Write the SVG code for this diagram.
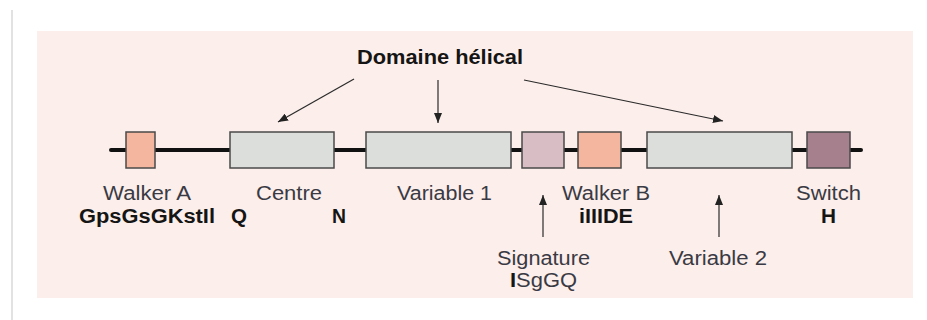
<svg xmlns="http://www.w3.org/2000/svg" width="927" height="320" viewBox="0 0 927 320">
<defs>
<marker id="ah" markerWidth="10" markerHeight="8" refX="10" refY="4" orient="auto" markerUnits="userSpaceOnUse">
<path d="M0,0 L10,4 L0,8 z" fill="#222"/>
</marker>
<style>
.lbl{font-family:"Liberation Sans",Arial,sans-serif;font-size:20px;fill:#3a3a44}
.bld{font-family:"Liberation Sans",Arial,sans-serif;font-size:20px;font-weight:bold;fill:#151515}
.box{stroke:#4a4a4a;stroke-width:1.5}
.grey{fill:#DCDEDB}
.salmon{fill:#F4B69E}
.sig{fill:#D8BEC4}
.sw{fill:#A7808D}
.arr{stroke:#2a2a2a;stroke-width:1.2;fill:none;marker-end:url(#ah)}
</style>
</defs>
<rect x="0" y="0" width="927" height="320" fill="#ffffff"/>
<line x1="12" y1="10" x2="12" y2="320" stroke="#e2e2e2" stroke-width="2"/>
<rect x="37" y="31" width="876" height="267" fill="#FCEEEA"/>
<line id="backbone" x1="111" y1="150" x2="861" y2="150" stroke="#111" stroke-width="4" stroke-linecap="round"/>

<g id="walkerA">
<rect class="box salmon" x="126" y="132" width="29" height="36"/>
<text class="lbl" x="103" y="200" textLength="88" lengthAdjust="spacingAndGlyphs">Walker A</text>
<text class="bld" x="79" y="223" textLength="136" lengthAdjust="spacingAndGlyphs">GpsGsGKstIl</text>
</g>
<g id="centre">
<rect class="box grey" x="230" y="132" width="104" height="36"/>
<text class="lbl" x="256" y="200" textLength="66" lengthAdjust="spacingAndGlyphs">Centre</text>
<text class="bld" x="231" y="223" textLength="16" lengthAdjust="spacingAndGlyphs">Q</text>
<text class="bld" x="332" y="223" textLength="14" lengthAdjust="spacingAndGlyphs">N</text>
</g>
<g id="variable1">
<rect class="box grey" x="366" y="132" width="145" height="36"/>
<text class="lbl" x="397" y="200" textLength="95" lengthAdjust="spacingAndGlyphs">Variable 1</text>
</g>
<g id="signature">
<rect class="box sig" x="522" y="132" width="42" height="36"/>
<text class="lbl" x="497" y="265" textLength="93" lengthAdjust="spacingAndGlyphs">Signature</text>
<text class="lbl" x="510" y="287" textLength="67" lengthAdjust="spacingAndGlyphs"><tspan font-weight="bold" fill="#151515">I</tspan>SgGQ</text>
</g>
<g id="walkerB">
<rect class="box salmon" x="578" y="132" width="43" height="36"/>
<text class="lbl" x="562" y="200" textLength="88" lengthAdjust="spacingAndGlyphs">Walker B</text>
<text class="bld" x="579" y="223" textLength="54" lengthAdjust="spacingAndGlyphs">iIIIDE</text>
</g>
<g id="variable2">
<rect class="box grey" x="647" y="132" width="145" height="36"/>
<text class="lbl" x="669" y="265" textLength="98" lengthAdjust="spacingAndGlyphs">Variable 2</text>
</g>
<g id="switch">
<rect class="box sw" x="807" y="132" width="43" height="36"/>
<text class="lbl" x="796" y="200" textLength="65" lengthAdjust="spacingAndGlyphs">Switch</text>
<text class="bld" x="821" y="223" textLength="15" lengthAdjust="spacingAndGlyphs">H</text>
</g>
<g id="domaine">
<text class="bld" x="357" y="64" font-size="19.5" textLength="166" lengthAdjust="spacingAndGlyphs">Domaine hélical</text>
</g>
<g id="connectors">
<line class="arr" x1="354" y1="79" x2="278" y2="122"/>
<line class="arr" x1="438" y1="80" x2="438" y2="123"/>
<line class="arr" x1="524" y1="80" x2="723" y2="121"/>
<line class="arr" x1="543" y1="237" x2="543" y2="195"/>
<line class="arr" x1="719" y1="237" x2="719" y2="195"/>
</g>
</svg>
